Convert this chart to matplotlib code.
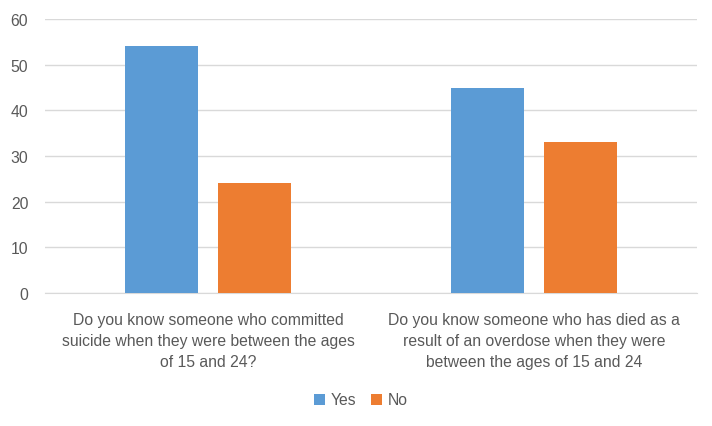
import matplotlib
matplotlib.use("Agg")
import matplotlib.pyplot as plt
import numpy as np

categories = ["Do you know someone who committed\nsuicide when they were between the ages\nof 15 and 24?",
              "Do you know someone who has died as a\nresult of an overdose when they were\nbetween the ages of 15 and 24"]
yes_vals = [54, 45]
no_vals = [24, 33]
yticks = [0, 10, 20, 30, 40, 50, 60]

plt.rcParams['font.family'] = ['Liberation Sans', 'DejaVu Sans']
txt = '#595959'

fig = plt.figure(figsize=(7.12, 4.27), dpi=100)
ax = fig.add_axes([45/712, 1-294/427, 652/712, 274/427])

x = np.arange(len(categories))
w = 0.224
off = 0.1426
ax.bar(x - off, yes_vals, w, color='#5B9BD5', label='Yes', zorder=3)
ax.bar(x + off, no_vals, w, color='#ED7D31', label='No', zorder=3)

ax.set_xlim(-0.5, 1.5)
ax.set_ylim(0, 60)
ax.set_yticks(yticks)
ax.set_yticklabels([str(v) for v in yticks], color=txt, fontsize=11.3)
ax.set_xticks(x)
ax.set_xticklabels(categories, color=txt, fontsize=11.3, linespacing=1.5, va='top')
ax.tick_params(axis='both', length=0)
ax.tick_params(axis='x', pad=14)
ax.tick_params(axis='y', pad=12)
ax.grid(axis='y', color='#D9D9D9', linewidth=1, zorder=0)
for s in ['top', 'right', 'left']:
    ax.spines[s].set_visible(False)
ax.spines['bottom'].set_color('#D9D9D9')

leg = fig.legend(loc='center', bbox_to_anchor=(361/712, 1-401/427), ncol=2, frameon=False,
                 fontsize=11.3, handlelength=0.7, handleheight=0.7, handletextpad=0.4, columnspacing=0.9)
for t in leg.get_texts():
    t.set_color(txt)

fig.savefig('out.png', dpi=100)
